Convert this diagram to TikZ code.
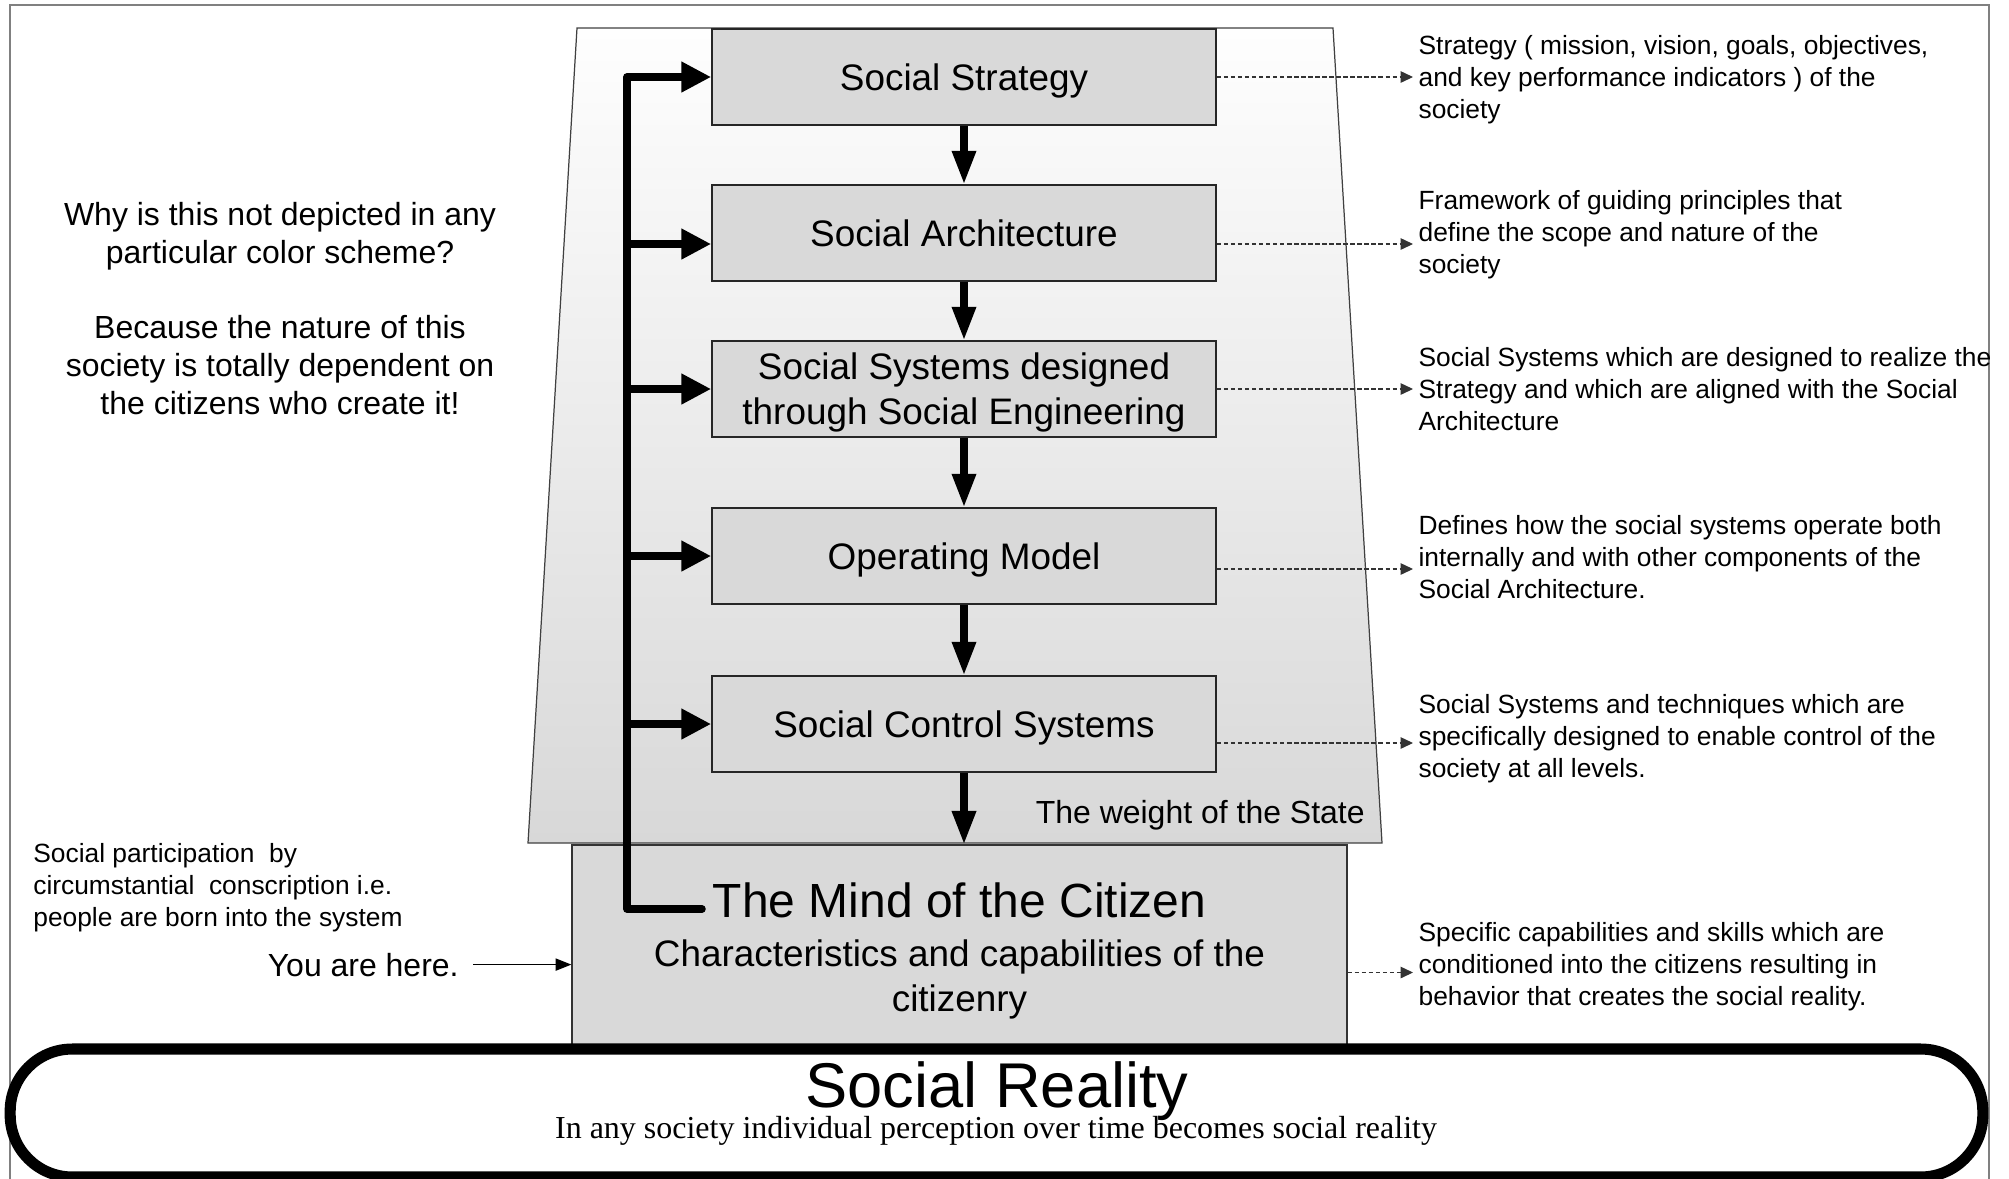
\documentclass[tikz,border=0pt]{standalone}
\usepackage{fontspec}
\setmainfont{Liberation Sans}
\newfontfamily\timesfont{Liberation Serif}
\usetikzlibrary{arrows.meta,positioning}
\definecolor{boxgray}{HTML}{D9D9D9}
\definecolor{statetop}{HTML}{FEFEFE}
\definecolor{statebottom}{HTML}{D8D8D8}
\newcommand{\layerfont}{\fontsize{21}{25.6}\selectfont}
\newcommand{\notefont}{\fontsize{15}{18.2}\selectfont}
\newcommand{\sidefont}{\fontsize{18.2}{21.6}\selectfont}
\newcommand{\titlefont}{\fontsize{27.3}{32}\selectfont}
\newcommand{\realityfont}{\fontsize{36}{42}\selectfont}
\newcommand{\realitycaption}{\timesfont\fontsize{18.2}{21.6}\selectfont}
\begin{document}
\begin{tikzpicture}[x=0.02cm, y=-0.02cm,
    layer/.style={draw=black!85, line width=1pt, fill=boxgray, minimum width=10.08cm,
        minimum height=1.92cm, inner sep=0pt, text depth=0pt, align=center, font=\layerfont},
    flow/.style={-{Triangle[length=19pt, width=13pt]}, line width=4pt},
    feed/.style={-{Triangle[length=17pt, width=16.5pt]}, line width=4.3pt},
    note/.style={-{Triangle[length=7pt, width=6.5pt]}, dash pattern=on 2.5pt off 1.5pt,
        line width=0.6pt, draw=black!80},
    notetext/.style={anchor=west, align=left, inner sep=3pt, font=\notefont}]
    \useasboundingbox (0,0) rectangle (2009,1178);
    \draw[gray, line width=0.8pt] (10,1190) |- (1989,5) -- (1989,1190);
    \shadedraw[top color=statetop, bottom color=statebottom, draw=black!75, line width=0.7pt]
        (577,28) -- (1333,28) -- (1382,843) -- (528,843) -- cycle;
    \node[layer] (strategy) at (964,77) {Social Strategy};
    \node[layer] (architecture) at (964,233) {Social Architecture};
    \node[layer] (systems) at (964,389) {Social Systems designed\\through Social Engineering};
    \node[layer] (operating) at (964,556) {Operating Model};
    \node[layer] (control) at (964,724) {Social Control Systems};
    \node[draw=black!80, line width=0.8pt, fill=boxgray, minimum width=15.5cm,
        minimum height=4.06cm, inner sep=0pt] (mind) at (959.5,946.5) {};
    \node[anchor=base, inner sep=0pt, font=\titlefont] (mindtitle) at (959.5,917) {The Mind of the Citizen};
    \node[align=center, inner sep=0pt, font=\layerfont] (mindtext) at (959.5,979)
        {Characteristics and capabilities of the\\citizenry};
    \node[anchor=base east, inner sep=0pt, font=\sidefont] (weight) at (1365,823) {The weight of the State};
    \foreach \a/\b in {strategy/architecture, architecture/systems, systems/operating,
        operating/control, control/mind}
        \draw[flow] (\a.south) -- (\a.south |- \b.north);
    \coordinate (bustop) at (627,77);
    \coordinate (busend) at (702,909);
    \draw[feed, line join=round, line cap=round] (busend) -| (bustop) -- (strategy.west);
    \foreach \stage/\dy in {architecture/-0.22cm, systems/0cm, operating/0cm, control/0cm} {
        \coordinate (\stage-in) at ([yshift=\dy]\stage.west);
        \draw[feed] (bustop |- \stage-in) -- (\stage-in);
    }
    \node[notetext] (strategy-note) at (1413,80)
        {Strategy ( mission, vision, goals, objectives,\\and key performance indicators ) of the\\society};
    \node[notetext] (architecture-note) at (1413,235)
        {Framework of guiding principles that\\define the scope and nature of the\\society};
    \node[notetext] (systems-note) at (1413,389)
        {Social Systems which are designed to realize the\\Strategy and which are aligned with the Social\\Architecture};
    \node[notetext] (operating-note) at (1413,557)
        {Defines how the social systems operate both\\internally and with other components of the\\Social Architecture.};
    \node[notetext] (control-note) at (1413,739)
        {Social Systems and techniques which are\\specifically designed to enable control of the\\society at all levels.};
    \node[notetext] (mind-note) at (1413,967)
        {Specific capabilities and skills which are\\conditioned into the citizens resulting in\\behavior that creates the social reality.};
    \foreach \stage/\dy in {strategy/0cm, architecture/-0.22cm, systems/0cm, operating/-0.26cm,
        control/-0.38cm, mind/-0.52cm} {
        \coordinate (\stage-out) at ([yshift=\dy]\stage.east);
        \draw[note] (\stage-out) -- (\stage-out -| \stage-note.west);
    }
    \node[align=center, font=\sidefont] (question) at (280,308.5)
        {Why is this not depicted in any\\particular color scheme?\\[21.6pt]Because the nature of this\\society is totally dependent on\\the citizens who create it!};
    \node[anchor=west, align=left, inner sep=0pt, font=\notefont] (participation) at (33,887.5)
        {Social participation~ by\\circumstantial~ conscription i.e.\\people are born into the system};
    \node[anchor=base east, inner sep=0pt, font=\sidefont] (here) at (459,976) {You are here.};
    \draw[-{Triangle[length=9pt, width=7pt]}, line width=0.6pt] ([xshift=0.28cm]here.east) -- (here.east -| mind.west);
    \node[draw, line width=6.3pt, rounded corners=1.24cm, minimum width=39.46cm,
        minimum height=2.56cm, inner sep=0pt] (reality) at (996.5,1113) {};
    \node[anchor=base, inner sep=0pt, font=\realityfont] (reality-title) at (997,1107) {Social Reality};
    \node[anchor=base, inner sep=0pt, font=\realitycaption] (reality-text) at (996,1138)
        {In any society individual perception over time becomes social reality};
\end{tikzpicture}
\end{document}
